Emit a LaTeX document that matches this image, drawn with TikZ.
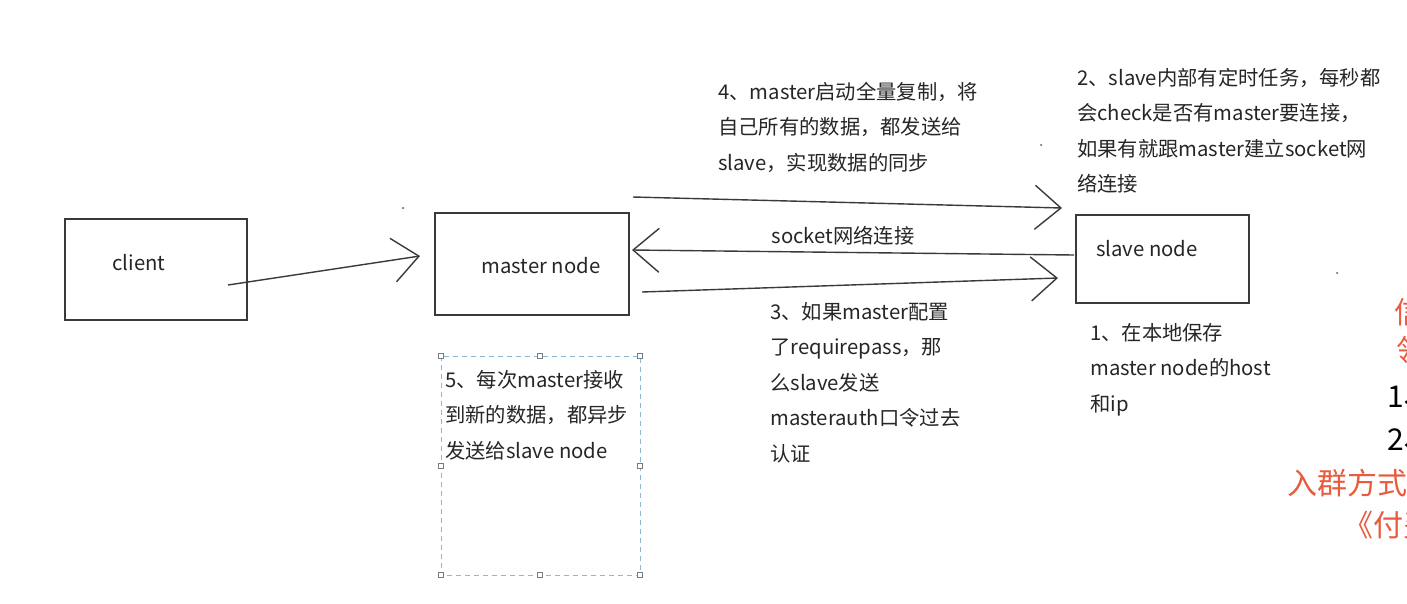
\documentclass[tikz,border=0pt]{standalone}
\usepackage{fontspec}
\setmainfont{Noto Sans CJK SC}
\usetikzlibrary{arrows.meta}
\definecolor{boxgray}{HTML}{3A3A3A}
\definecolor{txtgray}{HTML}{262626}
\definecolor{dashblue}{HTML}{8DB8D6}
\definecolor{handlegray}{HTML}{7A7A7A}
\definecolor{redtxt}{HTML}{EA5A3C}
\begin{document}
\begin{tikzpicture}[x=1pt,y=-1pt,
  box/.style={draw=boxgray, line width=1.4pt, minimum width=#1, inner sep=0},
  conn/.style={draw=boxgray, line width=1.4pt, -{Straight Barb[length=26pt,width=44pt,line width=1.4pt]}},
  txt/.style={text=txtgray, font=\fontsize{20.3}{35.5}\selectfont, align=left, inner sep=0},
  redt/.style={text=redtxt, font=\fontsize{30}{32}\selectfont, inner sep=0, anchor=west},
  blackt/.style={text=black, font=\fontsize{30}{32}\selectfont, inner sep=0, anchor=west},
  handle/.style={draw=handlegray, fill=white, line width=0.8pt, minimum size=5pt, inner sep=0},
  speck/.style={fill=gray, circle, inner sep=0, minimum size=2.5pt}
]
\clip (0,0) rectangle (1407,603);
\fill[white] (0,0) rectangle (1407,603);

% boxes
\node[box=182pt, minimum height=101pt] (client) at (156,269.5) {};
\node[box=194pt, minimum height=102pt] (master) at (532,264) {};
\node[box=173pt, minimum height=88pt] (slave) at (1162.5,259) {};
\node[txt] (clientl) at (139,263) {client};
\node[txt] (masterl) at (541,266) {master node};
\node[txt] (slavel) at (1147,249) {slave node};

% connector end points
\coordinate (c1) at (228,285);
\coordinate (m1) at (420,256);
\coordinate (m2) at (633,197);
\coordinate (s1) at (1062,208);
\coordinate (s2) at (1074,255);
\coordinate (m3) at (632,250);
\coordinate (m4) at (642,292);
\coordinate (s3) at (1058,278);

\draw[conn] (c1) -- (m1);
\draw[conn] (m2) -- (s1);
\draw[conn] (s2) -- (m3);
\draw[conn] (m4) -- (s3);

\node[txt] (sock) at (843,236) {socket网络连接};

% texts
\node[txt, anchor=north west] (t4) at (718,82) {4、master启动全量复制，将\\自己所有的数据，都发送给\\slave，实现数据的同步};
\node[txt, anchor=north west] (t2) at (1077,68) {2、slave内部有定时任务，每秒都\\会check是否有master要连接，\\如果有就跟master建立socket网\\络连接};
\node[txt, anchor=north west] (t3) at (770,302) {3、如果master配置\\了requirepass，那\\么slave发送\\masterauth口令过去\\认证};
\node[txt, anchor=north west] (t1) at (1090,323) {1、在本地保存\\master node的host\\和ip};

% dashed text box
\draw[draw=dashblue, line width=1pt, dash pattern=on 5pt off 4pt] (441,356) rectangle (640,575);
\foreach \p/\n in {{441,356}/a,{540,356}/b,{640,356}/c,{441,466}/d,{640,466}/e,{441,575}/f,{540,575}/g,{640,575}/h}
  \node[handle] (h\n) at (\p) {};
\node[txt, anchor=north west] (t5) at (445,370) {5、每次master接收\\到新的数据，都异步\\发送给slave node};

% specks
\node[speck] (d1) at (403,208) {};
\node[speck] (d2) at (1041,145) {};
\node[speck] (d3) at (1337,273) {};

% cut-off text at right edge
\node[redt] (r1) at (1394,312) {信};
\node[redt] (r2) at (1396,350) {领};
\node[blackt] (r3) at (1387,398) {1、};
\node[blackt] (r4) at (1387,440) {2、};
\node[redt] (r5) at (1287,483) {入群方式};
\node[redt] (r6) at (1343,525) {《付费};
\end{tikzpicture}
\end{document}
